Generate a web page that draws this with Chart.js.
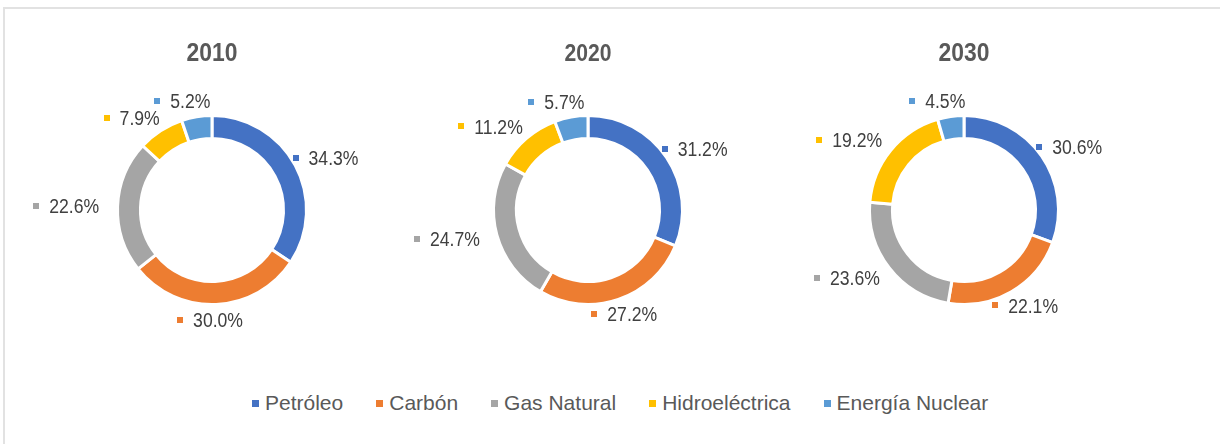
<!DOCTYPE html>
<html><head><meta charset="utf-8">
<script src="https://cdn.jsdelivr.net/npm/chart.js@4/dist/chart.umd.min.js"></script>
<style>
html,body{margin:0;padding:0;background:#fff;}
body{width:1220px;height:444px;position:relative;overflow:hidden;font-family:"Liberation Sans",Arial,sans-serif;}
#frame{position:absolute;left:3px;top:7px;width:1240px;height:460px;border-left:2px solid #e2e2e2;border-top:2px solid #e2e2e2;}
.wrap{position:absolute;top:0;width:380px;height:370px;}
.wrap canvas{width:380px!important;height:370px!important;}
#legend{position:absolute;left:252px;top:390px;height:26px;display:flex;align-items:center;}
.item{display:flex;align-items:center;margin-right:33px;font-size:21px;line-height:26px;color:#595959;white-space:nowrap;}
.sw{width:7px;height:7px;margin-right:6px;}
</style>
</head><body>
<div id="frame"></div>
<div id="charts"></div>
<div id="legend"></div>
<script>
// ---- data ----
const categories = ['Petróleo', 'Carbón', 'Gas Natural', 'Hidroeléctrica', 'Energía Nuclear'];
const years = ['2010', '2020', '2030'];
const values2010 = [34.3, 30.0, 22.6, 7.9, 5.2];
const values2020 = [31.2, 27.2, 24.7, 11.2, 5.7];
const values2030 = [30.6, 22.1, 23.6, 19.2, 4.5];
const seriesByYear = [values2010, values2020, values2030];

// ---- styles ----
const colors = ['#4472C4', '#ED7D31', '#A5A5A5', '#FFC000', '#5B9BD5'];
const centersX = [212, 587.5, 963.5];
const titleSizes = [26, 24, 26];
const FONT = '"Liberation Sans", Arial, sans-serif';
const LABEL_SIZE = 20, LABEL_SX = 0.88, TITLE_SX = 0.88;

const fmt = v => v.toFixed(1) + '%';

const overlayPlugin = {
  id: 'overlay',
  afterDatasetsDraw(chart) {
    const ctx = chart.ctx;
    const meta = chart.getDatasetMeta(0);
    const ds = chart.data.datasets[0];
    const cap = LABEL_SIZE * 0.716;
    ctx.save();
    ctx.font = LABEL_SIZE + 'px ' + FONT;
    ctx.textBaseline = 'alphabetic';
    ctx.textAlign = 'left';
    meta.data.forEach((arc, i) => {
      const p = arc.getProps(['x', 'y', 'startAngle', 'endAngle', 'outerRadius'], true);
      const a = (p.startAngle + p.endAngle) / 2;
      const txt = fmt(ds.data[i]);
      const tw = ctx.measureText(txt).width * LABEL_SX;
      const D = p.outerRadius + 8.5;
      const cxT = p.x + Math.cos(a) * (D + tw / 2 + 10);
      const cyT = p.y + Math.sin(a) * (D + cap / 2);
      const left = cxT - tw / 2;
      ctx.fillStyle = ds.backgroundColor[i];
      ctx.fillRect(Math.round(left - 16), Math.round(cyT - 3), 6, 6);
      ctx.fillStyle = '#404040';
      ctx.save();
      ctx.translate(left, cyT + cap / 2);
      ctx.scale(LABEL_SX, 1);
      ctx.fillText(txt, 0, 0);
      ctx.restore();
    });
    // title
    const t = chart.options.plugins.overlay;
    ctx.font = 'bold ' + t.size + 'px ' + FONT;
    ctx.fillStyle = '#595959';
    ctx.textAlign = 'center';
    const ca = chart.chartArea;
    ctx.translate((ca.left + ca.right) / 2, 61);
    ctx.scale(TITLE_SX, 1);
    ctx.fillText(t.text, 0, 0);
    ctx.restore();
  }
};

const host = document.getElementById('charts');
years.forEach((yr, k) => {
  const w = document.createElement('div');
  w.className = 'wrap';
  w.style.left = (centersX[k] - 190) + 'px';
  const c = document.createElement('canvas');
  c.width = 380; c.height = 370;
  w.appendChild(c);
  host.appendChild(w);
  new Chart(c, {
    type: 'doughnut',
    data: {
      labels: categories,
      datasets: [{
        data: seriesByYear[k],
        backgroundColor: colors,
        borderColor: '#ffffff',
        borderWidth: 3,
        hoverOffset: 0
      }]
    },
    options: {
      responsive: false,
      animation: false,
      cutout: '75.7%',
      layout: { padding: { left: 94, right: 94, top: 114, bottom: 64 } },
      plugins: {
        legend: { display: false },
        tooltip: { enabled: false },
        overlay: { text: yr, size: titleSizes[k] }
      },
      events: []
    },
    plugins: [overlayPlugin]
  });
});

const lg = document.getElementById('legend');
categories.forEach((name, i) => {
  const it = document.createElement('div');
  it.className = 'item';
  const sw = document.createElement('span');
  sw.className = 'sw';
  sw.style.background = colors[i];
  const tx = document.createElement('span');
  tx.textContent = name;
  it.appendChild(sw); it.appendChild(tx);
  lg.appendChild(it);
});
</script>
</body></html>
